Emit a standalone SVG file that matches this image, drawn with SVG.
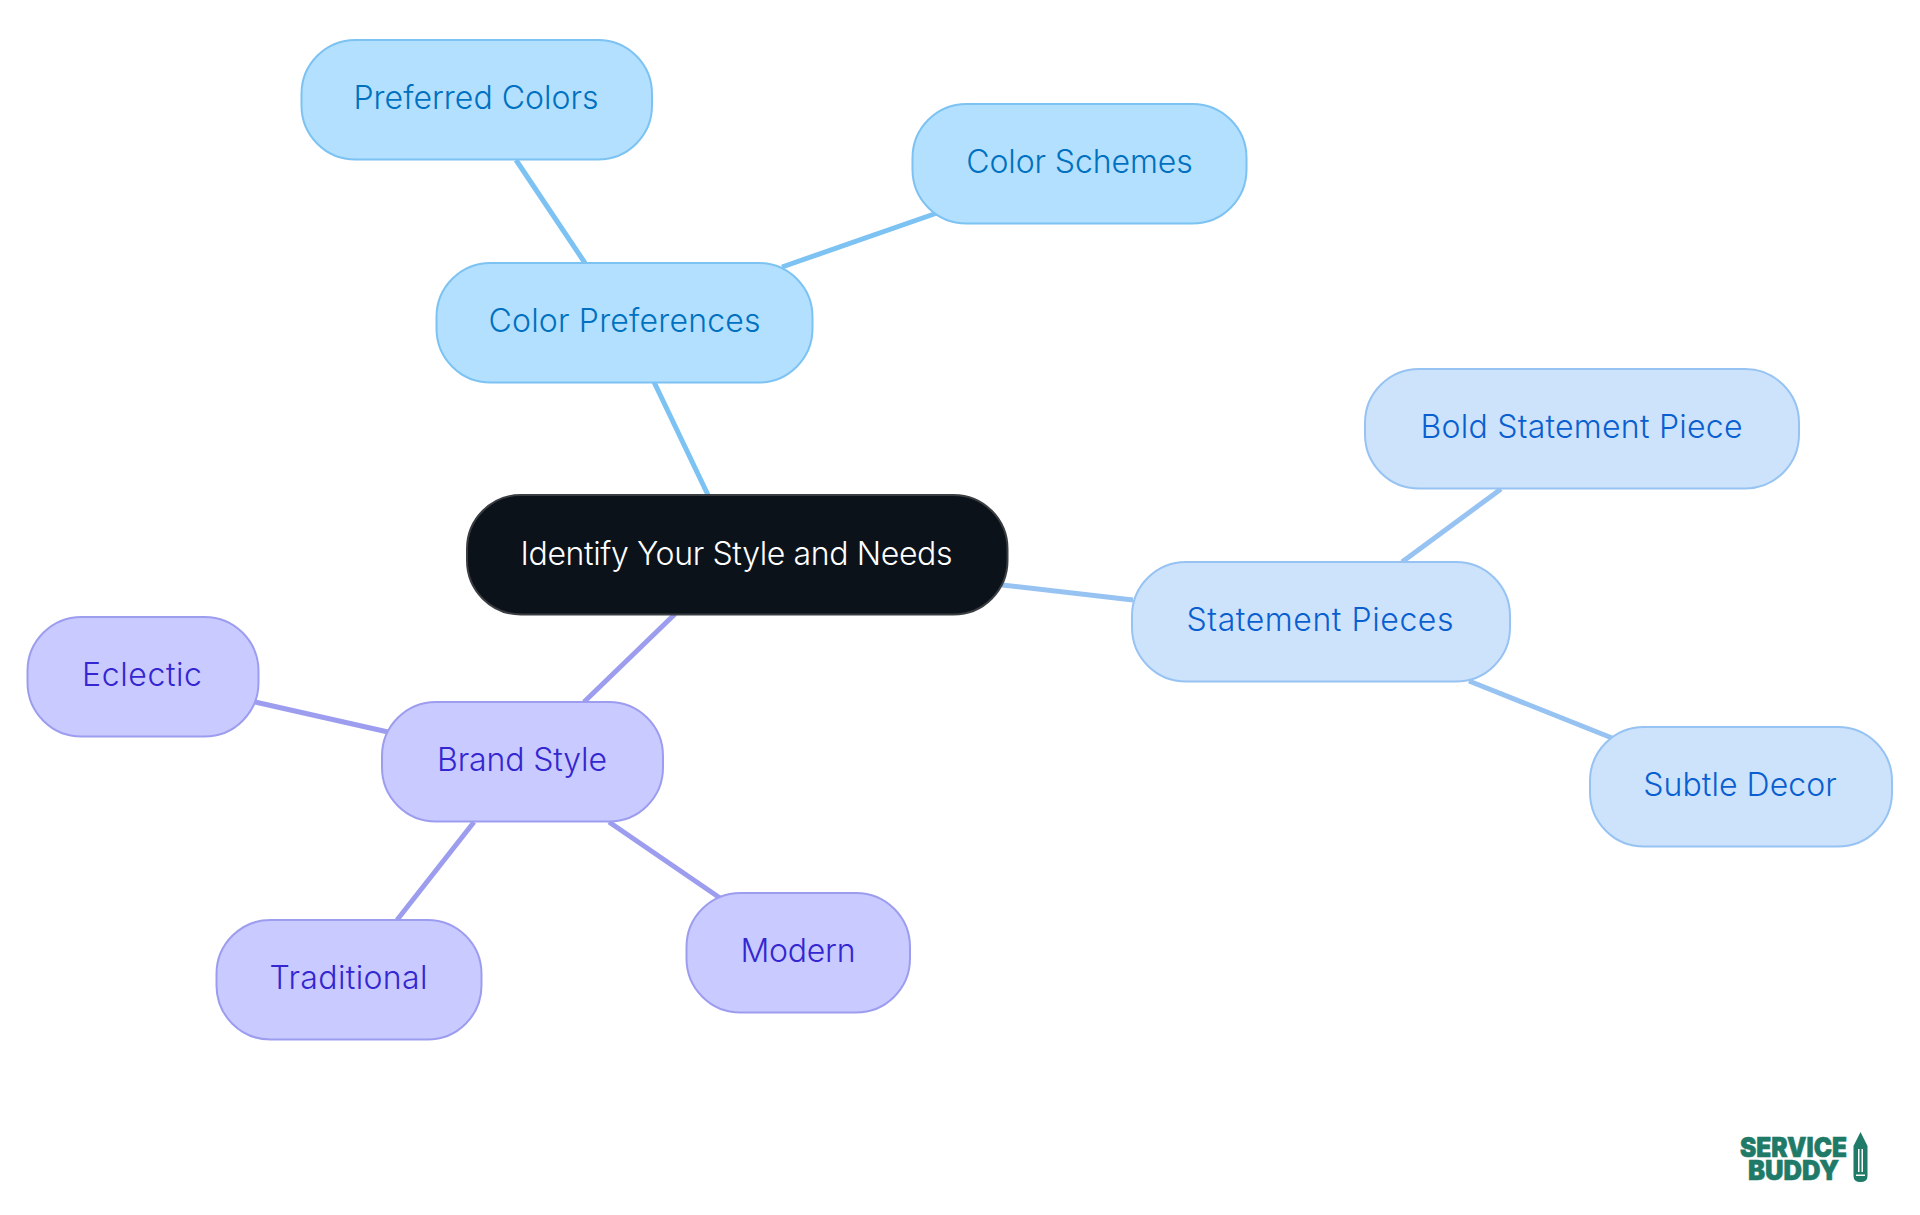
<svg xmlns="http://www.w3.org/2000/svg" width="1920" height="1215" viewBox="0 0 1920 1215">
<style>
text{font-family:Inter,"Noto Sans",sans-serif;font-size:32px;font-weight:300;text-anchor:middle}
.n rect{stroke-width:2}
.a rect{fill:#b3e0ff;stroke:#7cc2f2}.a text{fill:#0070c0}
.b rect{fill:#cde3fc;stroke:#97c3f2}.b text{fill:#0a5fd0}
.c rect{fill:#c9caff;stroke:#9d9df0}.c text{fill:#3426d0}
#connectors line{stroke-width:5;fill:none}
.la{stroke:#7cc2f2}.lb{stroke:#97c3f2}.lc{stroke:#9d9df0}
#logo text{font-weight:900;font-size:27px;fill:#1f7a68;text-anchor:start;stroke:#1f7a68;stroke-width:.6}
</style>
<rect width="1920" height="1215" fill="#fff"/>
<g id="connectors">
<line class="la" x1="708" y1="495" x2="654" y2="382"/>
<line class="la" x1="585" y1="263" x2="516" y2="160"/>
<line class="la" x1="782" y1="267" x2="937" y2="213"/>
<line class="lb" x1="1002" y1="585" x2="1133" y2="600"/>
<line class="lb" x1="1402" y1="562" x2="1501" y2="489"/>
<line class="lb" x1="1469" y1="681" x2="1612" y2="738"/>
<line class="lc" x1="675" y1="614" x2="584" y2="702"/>
<line class="lc" x1="388" y1="732" x2="255" y2="702"/>
<line class="lc" x1="474" y1="822" x2="397" y2="920"/>
<line class="lc" x1="609" y1="822" x2="720" y2="898"/>
</g>
<g id="root" class="n"><rect x="467" y="495" width="540.500" height="119.500" rx="54" fill="#0b121a" stroke="#3a3d42"/><text x="736.500" y="565" textLength="432" style="fill:#fff">Identify Your Style and Needs</text></g>
<g id="color-preferences" class="n a"><rect x="436.500" y="263" width="376" height="119.500" rx="54"/><text x="624.500" y="332" textLength="272">Color Preferences</text></g>
<g id="preferred-colors" class="n a"><rect x="301.500" y="40" width="350.500" height="119.500" rx="54"/><text x="476" y="109" textLength="245">Preferred Colors</text></g>
<g id="color-schemes" class="n a"><rect x="912.500" y="104" width="334" height="119.500" rx="54"/><text x="1079.500" y="173" textLength="226.500">Color Schemes</text></g>
<g id="statement-pieces" class="n b"><rect x="1132" y="562" width="378" height="119.500" rx="54"/><text x="1320" y="631" textLength="267">Statement Pieces</text></g>
<g id="bold-statement-piece" class="n b"><rect x="1365" y="369" width="434" height="119.500" rx="54"/><text x="1581.500" y="438" textLength="322">Bold Statement Piece</text></g>
<g id="subtle-decor" class="n b"><rect x="1590" y="727" width="302" height="119.500" rx="54"/><text x="1740" y="796" textLength="193.500">Subtle Decor</text></g>
<g id="brand-style" class="n c"><rect x="382" y="702" width="281" height="119.500" rx="54"/><text x="522" y="771" textLength="170">Brand Style</text></g>
<g id="eclectic" class="n c"><rect x="27.500" y="617" width="231" height="119.500" rx="54"/><text x="142" y="686" textLength="120">Eclectic</text></g>
<g id="traditional" class="n c"><rect x="216.500" y="920" width="265" height="119.500" rx="54"/><text x="348.500" y="989" textLength="158">Traditional</text></g>
<g id="modern" class="n c"><rect x="686.500" y="893" width="223.500" height="119.500" rx="54"/><text x="798" y="962" textLength="115">Modern</text></g>
<g id="logo">
<text x="1740" y="1156.500" textLength="107" lengthAdjust="spacingAndGlyphs">SERVICE</text>
<text x="1748" y="1180" textLength="91" lengthAdjust="spacingAndGlyphs">BUDDY</text>
<path d="M1860.500 1132L1867.500 1146V1176Q1867.500 1182 1860.500 1182Q1853.500 1182 1853.500 1176V1146Z" fill="#1f7a68"/>
<path d="M1858 1149H1859.500V1172H1858ZM1861.500 1149H1863V1172H1861.500ZM1856 1174.500H1865V1176H1856Z" fill="#fff"/>
</g>
</svg>
